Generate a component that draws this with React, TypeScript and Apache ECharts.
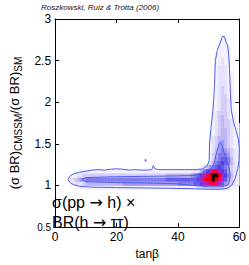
import React, { useEffect, useRef } from "react";
import * as echarts from "echarts";

const FONT = '"Liberation Sans", Arial, Helvetica, sans-serif';

// Axis ticks
const xTicks = [0, 20, 40, 60];
const yTicks = [0.5, 1, 1.5, 2, 2.5, 3];

// Density cells: cell width in tanβ and height in ratio
const CELL_DX = 1;
const CELL_DY = 0.05;

// Horizontal band rows (lower edge of each row), columns tanβ 0..59
const bandLevels = [0.95, 1.0, 1.05, 1.1, 1.15, 1.2];
const bandRows = [
  "0000001111" + "1111111111" + "1111111111" + "1111111111" + "1111112233" + "3333322110",
  "0000012223" + "4444444444" + "4455555555" + "5555555555" + "6666677899" + "aaa9754321",
  "0000123455" + "6666666666" + "6666666666" + "6666667777" + "77777789ab" + "bcba975321",
  "0000001223" + "3333333333" + "3333333333" + "3333334444" + "444456789a" + "bccb986421",
  "0000000011" + "1111111111" + "1111111111" + "1111111111" + "1111122468" + "9aa9875321",
  "0000000000" + "0000000000" + "0000000000" + "0000000000" + "0000000123" + "5678765321",
];

// Vertical plume rows (lower edge), columns tanβ 44..59
const plumeStart = 44;
const plumeLevels = [
  1.25, 1.3, 1.35, 1.4, 1.45, 1.5, 1.55, 1.6, 1.65, 1.7, 1.75, 1.8, 1.85, 1.9, 1.95,
  2.0, 2.05, 2.1, 2.15, 2.2, 2.25, 2.3, 2.35, 2.4, 2.45, 2.5, 2.55, 2.6, 2.65, 2.7, 2.75,
];
const plumeRows = [
  "0000002467876421",
  "0000001356776421",
  "0000001346665321",
  "0000001245654321",
  "0000001235543211",
  "0000001234543211",
  "0000001234443211",
  "0000001123443211",
  "0000000123443211",
  "0000000123433211",
  "0000000123433210",
  "0000000123432110",
  "0000000123332110",
  "0000000112332100",
  "0000000112332100",
  "0000000012332100",
  "0000000012331100",
  "0000000012321100",
  "0000000012321100",
  "0000000012221100",
  "0000000012221100",
  "0000000012221100",
  "0000000012221000",
  "0000000012221000",
  "0000000011211000",
  "0000000011211000",
  "0000000011111000",
  "0000000001111000",
  "0000000001111000",
  "0000000001110000",
  "0000000000110000",
];

// Contours [tanβ, ratio]
const outerContour = [
  [4.2, 1.07], [5, 1.12], [6.5, 1.145], [8, 1.16], [10, 1.17], [12, 1.185], [14, 1.19],
  [16, 1.185], [18, 1.195], [20, 1.2], [22, 1.195], [24, 1.185], [26, 1.19], [28, 1.185],
  [30, 1.185], [31.5, 1.19], [32, 1.24], [32.5, 1.2], [34, 1.19], [38, 1.19], [42, 1.19],
  [46, 1.19], [48, 1.2], [49.5, 1.23], [50.2, 1.3], [50.3, 1.5], [50.8, 1.7], [51.4, 1.9],
  [51.6, 2.0], [51.9, 2.2], [52.2, 2.5], [52.8, 2.62], [53.6, 2.7], [54.2, 2.76],
  [54.6, 2.79], [55.1, 2.79], [55.4, 2.76], [55.7, 2.72], [56.2, 2.68], [56.6, 2.55],
  [56.8, 2.4], [57.1, 2.1], [57.4, 1.9], [58.2, 1.75], [59, 1.65], [59.7, 1.55],
  [60, 1.45], [59.9, 1.3], [59.5, 1.2], [58.6, 1.08], [57.5, 1.0], [56, 0.965],
  [54, 0.955], [50, 0.955], [46, 0.96], [40, 0.965], [30, 0.97], [20, 0.975], [12, 0.98],
  [8, 0.99], [6, 1.01], [5, 1.03], [4.2, 1.07],
];
const innerContour = [
  [8.7, 1.075], [10, 1.095], [20, 1.105], [30, 1.11], [40, 1.115], [45, 1.12], [48, 1.15],
  [50, 1.19], [51.3, 1.22], [52, 1.3], [52.8, 1.42], [53.4, 1.5], [53.8, 1.52], [54.2, 1.5],
  [55, 1.4], [56, 1.28], [56.7, 1.21], [57, 1.12], [56.8, 1.05], [56, 1.0], [54, 0.985],
  [50, 0.985], [46, 0.995], [40, 1.02], [30, 1.03], [20, 1.035], [10, 1.045], [8.7, 1.075],
];
const dotContour = [
  [29.3, 1.295], [29.6, 1.295], [29.6, 1.31], [29.3, 1.31], [29.3, 1.295],
];

const densityColors = [
  "#ffffff", "#f3f1fe", "#e6e2fc", "#d4cdf9", "#bdb5f5", "#a198f2", "#8479ee",
  "#675be9", "#5040e2", "#b020c8", "#ff0050", "#e80000", "#1a0000",
];

function buildCells(levels: number[], rows: string[], x0: number) {
  const out: number[][] = [];
  rows.forEach((row, i) => {
    for (let j = 0; j < row.length; j++) {
      const v = parseInt(row[j], 16);
      if (v > 0) out.push([x0 + j * CELL_DX, levels[i], v]);
    }
  });
  return out;
}

export default function App() {
  const ref = useRef<HTMLDivElement>(null);
  useEffect(() => {
    if (!ref.current) return;
    const chart = echarts.init(ref.current, undefined, { renderer: "svg" });
    const cells = [
      ...buildCells(bandLevels, bandRows, 0),
      ...buildCells(plumeLevels, plumeRows, plumeStart),
    ];
    const lineColor = "#4b5ff0";
    const contour = (data: number[][]) => ({
      type: "line",
      data,
      xAxisIndex: 0,
      yAxisIndex: 0,
      symbol: "none",
      showSymbol: false,
      silent: true,
      z: 4,
      lineStyle: { color: lineColor, width: 1 },
    });
    const axisCommon = {
      type: "value",
      splitLine: { show: false },
      axisLine: { show: true, onZero: false, lineStyle: { color: "#000", width: 1 } },
      axisTick: { show: true, inside: true, length: 4, lineStyle: { color: "#000" } },
    };
    const annoRich = {
      a: { fontSize: 16, fontFamily: '"DejaVu Sans", sans-serif', color: "#000" },
    };
    chart.setOption({
      animation: false,
      backgroundColor: "#ffffff",
      grid: { left: 41, top: 19, width: 200, height: 218, containLabel: false },
      visualMap: {
        type: "continuous",
        show: false,
        min: 0,
        max: 12,
        dimension: 2,
        seriesIndex: 0,
        inRange: { color: densityColors },
      },
      xAxis: [
        {
          ...axisCommon,
          min: xTicks[0],
          max: xTicks[xTicks.length - 1],
          interval: 20,
          position: "bottom",
          axisLabel: { color: "#000", fontSize: 12, fontFamily: FONT, margin: 4 },
          name: "tanβ",
          nameLocation: "middle",
          nameGap: 19,
          nameTextStyle: { color: "#000", fontSize: 12, fontFamily: FONT },
        },
        {
          ...axisCommon,
          min: xTicks[0],
          max: xTicks[xTicks.length - 1],
          interval: 20,
          position: "top",
          axisLabel: { show: false },
        },
      ],
      yAxis: [
        {
          ...axisCommon,
          min: yTicks[0],
          max: yTicks[yTicks.length - 1],
          interval: 0.5,
          position: "left",
          axisLabel: {
            color: "#000",
            fontSize: 12,
            fontFamily: FONT,
            margin: 4,
            formatter: (v: number) => (v === 0.5 ? "{s|0.5}" : String(v)),
            rich: { s: { fontSize: 10, fontFamily: FONT, color: "#000" } },
          },
          name: "(σ BR){sub|CMSSM}/(σ BR){sub|SM}",
          nameLocation: "middle",
          nameGap: 24,
          nameTextStyle: {
            color: "#000",
            fontSize: 13,
            fontFamily: FONT,
            rich: {
              sub: { fontSize: 10, fontFamily: FONT, color: "#000", padding: [8, 0, 0, 0] },
            },
          },
        },
        {
          ...axisCommon,
          min: yTicks[0],
          max: yTicks[yTicks.length - 1],
          interval: 0.5,
          position: "right",
          axisLabel: { show: false },
        },
      ],
      series: [
        {
          type: "custom",
          xAxisIndex: 0,
          yAxisIndex: 0,
          data: cells,
          clip: true,
          silent: true,
          z: 2,
          encode: { x: 0, y: 1 },
          renderItem: (_params: any, api: any) => {
            const x = api.value(0);
            const y = api.value(1);
            const a = api.coord([x, y + CELL_DY]);
            const b = api.coord([x + CELL_DX, y]);
            return {
              type: "rect",
              shape: { x: a[0], y: a[1], width: b[0] - a[0] + 0.4, height: b[1] - a[1] + 0.4 },
              style: { fill: api.visual("color") },
            };
          },
        },
        contour(outerContour),
        contour(innerContour),
        contour(dotContour),
      ],
      graphic: [
        {
          type: "text",
          left: 41,
          top: 3,
          style: {
            text: "Roszkowski, Ruiz & Trotta (2006)",
            fontSize: 8,
            fontStyle: "italic",
            fontFamily: FONT,
            fill: "#111",
          },
        },
        {
          type: "text",
          left: 52,
          top: 194,
          z: 10,
          style: {
            text: "σ(pp {a|→} h) ×",
            fontSize: 16,
            fontFamily: FONT,
            fill: "#000",
            rich: annoRich,
          },
        },
        {
          type: "text",
          left: 52,
          top: 214,
          z: 10,
          style: {
            text: "BR(h {a|→} ττ)",
            fontSize: 16,
            fontFamily: FONT,
            fill: "#000",
            rich: annoRich,
          },
        },
      ],
    });
    return () => chart.dispose();
  }, []);
  return (
    <div
      ref={ref}
      style={{ position: "fixed", left: 0, top: 0, width: 249, height: 265, background: "#fff" }}
    />
  );
}
